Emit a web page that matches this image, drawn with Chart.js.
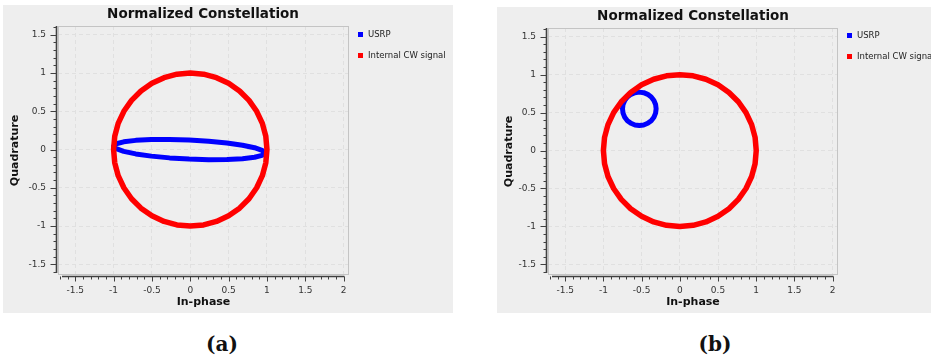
<!DOCTYPE html>
<html>
<head>
<meta charset="utf-8">
<script src="https://cdn.jsdelivr.net/npm/chart.js@4/dist/chart.umd.min.js"></script>
<style>
  body { margin: 0; width: 931px; height: 358px; overflow: hidden; background: #fff; position: relative; font-family: "DejaVu Sans", sans-serif; }
  .panel { position: absolute; background: #eeeeee; }
  .panel canvas { position: absolute; left: 0; top: 0; }
  .title { position: absolute; font-weight: bold; font-size: 13.5px; color: #111; white-space: nowrap; transform: translate(-50%, -50%); }
  .key { position: absolute; font-size: 8.5px; color: #222; white-space: nowrap; transform: translateY(-50%); padding-left: 10px; }
  .key i { position: absolute; left: 0; top: 50%; width: 5px; height: 5px; margin-top: -2.5px; }
  .caption { position: absolute; font-family: "DejaVu Serif", serif; font-weight: bold; font-size: 20px; color: #111; transform: translate(-50%, -50%); }
</style>
</head>
<body>
<div class="panel" id="panelA"><canvas id="chartA"></canvas></div>
<div class="panel" id="panelB"><canvas id="chartB"></canvas></div>
<script>
// Internal CW signal: unit circle, same in both captures
const cwI = [1, 0.985, 0.94, 0.866, 0.766, 0.643, 0.5, 0.342, 0.174, 0, -0.174, -0.342, -0.5, -0.643, -0.766, -0.866, -0.94, -0.985,
             -1, -0.985, -0.94, -0.866, -0.766, -0.643, -0.5, -0.342, -0.174, 0, 0.174, 0.342, 0.5, 0.643, 0.766, 0.866, 0.94, 0.985];
const cwQ = [0, 0.174, 0.342, 0.5, 0.643, 0.766, 0.866, 0.94, 0.985, 1, 0.985, 0.94, 0.866, 0.766, 0.643, 0.5, 0.342, 0.174,
             0, -0.174, -0.342, -0.5, -0.643, -0.766, -0.866, -0.94, -0.985, -1, -0.985, -0.94, -0.866, -0.766, -0.643, -0.5, -0.342, -0.174];

// USRP capture (a): flattened ellipse
const usrpAI = [0.97, 0.936, 0.838, 0.681, 0.478, 0.24, -0.015, -0.27, -0.508, -0.711, -0.868, -0.966,
                -1.0, -0.966, -0.868, -0.711, -0.508, -0.27, -0.015, 0.24, 0.478, 0.681, 0.838, 0.936];
const usrpAQ = [-0.045, -0.011, 0.024, 0.057, 0.086, 0.109, 0.125, 0.132, 0.131, 0.12, 0.101, 0.076,
                0.045, 0.011, -0.024, -0.057, -0.086, -0.109, -0.125, -0.132, -0.131, -0.12, -0.101, -0.076];

// USRP capture (b): small ring near (-0.53, 0.55)
const usrpBI = [-0.31, -0.317, -0.339, -0.374, -0.42, -0.473, -0.53, -0.587, -0.64, -0.686, -0.721, -0.743,
                -0.75, -0.743, -0.721, -0.686, -0.64, -0.587, -0.53, -0.473, -0.42, -0.374, -0.339, -0.317];
const usrpBQ = [0.55, 0.607, 0.66, 0.706, 0.741, 0.763, 0.77, 0.763, 0.741, 0.706, 0.66, 0.607,
                0.55, 0.493, 0.44, 0.394, 0.359, 0.337, 0.33, 0.337, 0.359, 0.394, 0.44, 0.493];

const xTicks = [-1.5, -1, -0.5, 0, 0.5, 1, 1.5, 2];
const xTickLabels = ['-1.5', '-1', '-0.5', '0', '0.5', '1', '1.5', '2'];
const yTicks = [-1.5, -1, -0.5, 0, 0.5, 1, 1.5];
const yTickLabels = ['-1.5', '-1', '-0.5', '0', '0.5', '1', '1.5'];
const xRange = [-1.725, 2.07];
const yRange = [-1.64, 1.615];

const seriesNames = ['USRP', 'Internal CW signal'];
const seriesColors = ['#0000ff', '#ff0000'];

function closedLoop(xs, ys) {
    const pts = xs.map((x, i) => ({ x: x, y: ys[i] }));
    pts.push(pts[0]);
    return pts;
}

// axis lines with major/minor tick marks, drawn just outside the plot frame
const axisMarks = {
    id: 'axisMarks',
    afterDraw(chart) {
        const { ctx, chartArea: a, scales: { x, y } } = chart;
        ctx.save();
        ctx.strokeStyle = '#c4c4c4';
        ctx.lineWidth = 1;
        ctx.strokeRect(a.left + 0.5, a.top + 0.5, a.right - a.left - 1, a.bottom - a.top - 1);

        ctx.strokeStyle = '#404040';
        ctx.lineWidth = 1.6;
        const yLineX = a.left - 1.5;
        const xLineY = a.bottom + 1.5;
        ctx.beginPath();
        ctx.moveTo(yLineX, a.top);
        ctx.lineTo(yLineX, a.bottom - 2);
        ctx.moveTo(a.left + 4, xLineY);
        ctx.lineTo(x.getPixelForValue(2) + 0.75, xLineY);
        ctx.stroke();

        ctx.lineWidth = 1;
        ctx.beginPath();
        for (let k = -17; k <= 20; k++) {
            const px = Math.round(x.getPixelForValue(k / 10)) + 0.5;
            const len = k % 5 === 0 ? 5 : 3;
            ctx.moveTo(px, xLineY);
            ctx.lineTo(px, xLineY + len);
        }
        for (let k = -16; k <= 16; k++) {
            const py = Math.round(y.getPixelForValue(k / 10)) + 0.5;
            const len = k % 5 === 0 ? 6 : 3;
            ctx.moveTo(yLineX, py);
            ctx.lineTo(yLineX - len, py);
        }
        ctx.stroke();
        ctx.restore();
    }
};

function makePanel(id, box, plot, usrpPoints, titlePos, keyPos, caption) {
    const panel = document.getElementById('panel' + id);
    panel.style.left = box.x + 'px';
    panel.style.top = box.y + 'px';
    panel.style.width = box.w + 'px';
    panel.style.height = box.h + 'px';

    const canvas = document.getElementById('chart' + id);
    canvas.width = box.w;
    canvas.height = box.h;

    const left = plot.l - box.x;
    const top = plot.t - box.y;
    const right = plot.r - box.x;
    const bottom = plot.b - box.y;

    const tickFont = { family: 'DejaVu Sans', size: 9 };
    const axisTitleFont = { family: 'DejaVu Sans', size: 11, weight: 'bold' };

    new Chart(canvas, {
        type: 'scatter',
        data: {
            datasets: [
                { label: seriesNames[0], data: usrpPoints, borderColor: seriesColors[0], borderWidth: 5, order: 1 },
                { label: seriesNames[1], data: closedLoop(cwI, cwQ), borderColor: seriesColors[1], borderWidth: 5.5, order: 0 }
            ].map(d => Object.assign(d, {
                showLine: true, pointRadius: 0, fill: false, tension: 0,
                borderJoinStyle: 'round', borderCapStyle: 'round'
            }))
        },
        options: {
            responsive: false,
            animation: false,
            events: [],
            layout: { padding: { left: 0, top: top, right: box.w - right, bottom: 0 } },
            plugins: { legend: { display: false }, title: { display: false }, tooltip: { enabled: false } },
            scales: {
                x: {
                    type: 'linear', min: xRange[0], max: xRange[1],
                    afterBuildTicks: s => { s.ticks = xTicks.map(v => ({ value: v })); },
                    afterFit: s => { s.height = box.h - bottom; },
                    grid: { color: '#e0e0e0', lineWidth: 1, drawTicks: false },
                    border: { display: false, dash: [4, 3] },
                    ticks: { padding: 10, font: tickFont, color: '#333', maxRotation: 0, callback: (v, i) => xTickLabels[i] },
                    title: { display: true, text: 'In-phase', font: axisTitleFont, color: '#111', padding: { top: 0, bottom: 4.4 } }
                },
                y: {
                    type: 'linear', min: yRange[0], max: yRange[1],
                    afterBuildTicks: s => { s.ticks = yTicks.map(v => ({ value: v })); },
                    afterFit: s => { s.width = left; },
                    grid: { color: '#e0e0e0', lineWidth: 1, drawTicks: false },
                    border: { display: false, dash: [4, 3] },
                    ticks: { padding: 12, font: tickFont, color: '#333', callback: (v, i) => yTickLabels[i] },
                    title: { display: true, text: 'Quadrature', font: axisTitleFont, color: '#111', padding: { top: 5.4, bottom: 0 } }
                }
            }
        },
        plugins: [axisMarks]
    });

    const title = document.createElement('div');
    title.className = 'title';
    title.textContent = 'Normalized Constellation';
    title.style.left = titlePos.x + 'px';
    title.style.top = titlePos.y + 'px';
    document.body.appendChild(title);

    seriesNames.forEach((name, i) => {
        const key = document.createElement('div');
        key.className = 'key';
        key.innerHTML = '<i style="background:' + seriesColors[i] + '"></i>' + name;
        key.style.left = keyPos.x + 'px';
        key.style.top = (keyPos.y + i * 21) + 'px';
        document.body.appendChild(key);
    });

    const cap = document.createElement('div');
    cap.className = 'caption';
    cap.textContent = caption.text;
    cap.style.left = caption.x + 'px';
    cap.style.top = caption.y + 'px';
    document.body.appendChild(cap);
}

makePanel('A', { x: 3, y: 5, w: 450, h: 308 }, { l: 58, t: 26, r: 349, b: 275 },
    closedLoop(usrpAI, usrpAQ), { x: 203, y: 13 }, { x: 358, y: 34 }, { text: '(a)', x: 222, y: 344 });
makePanel('B', { x: 497, y: 7, w: 450, h: 306 }, { l: 548, t: 28, r: 838, b: 275 },
    closedLoop(usrpBI, usrpBQ), { x: 693, y: 15 }, { x: 847, y: 35 }, { text: '(b)', x: 715, y: 344 });
</script>
</body>
</html>
